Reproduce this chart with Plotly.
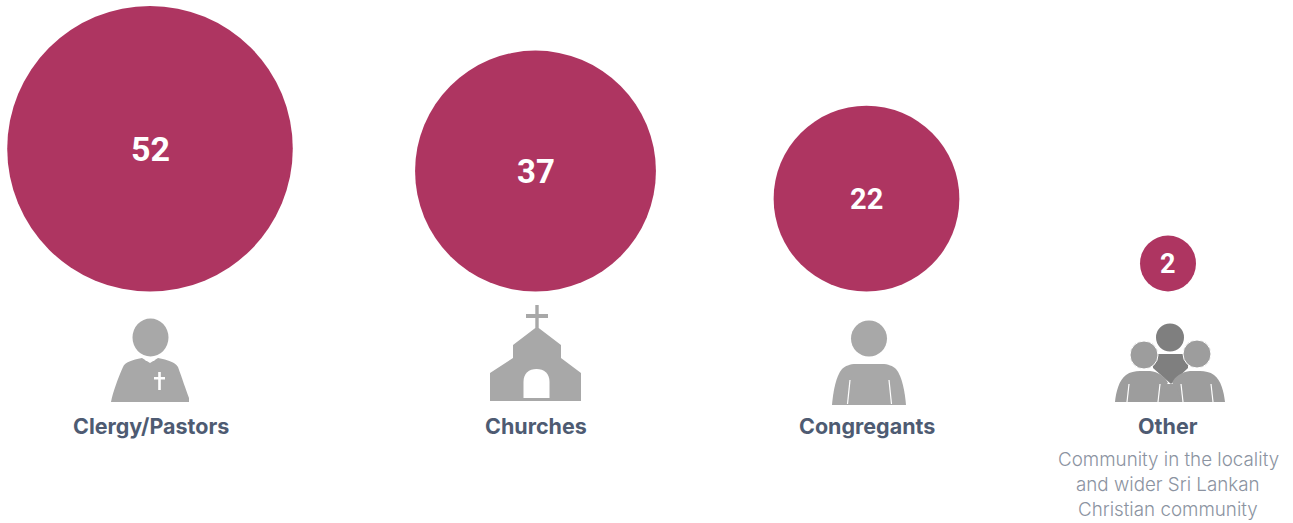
import math
import plotly.graph_objects as go

categories = ["Clergy/Pastors", "Churches", "Congregants", "Other"]
values = [52, 37, 22, 2]
note_lines = ["Community in the locality", "and wider Sri Lankan", "Christian community"]

# layout constants (axes are mapped 1:1 to the canvas)
W, H = 1293, 523
CENTERS = [150, 535.5, 866.5, 1168]
LABEL_X = [150.5, 535.5, 866.5, 1168]
BASE_Y = 291.5
K = 19.8  # radius px per sqrt(value)
NUM_SIZES = [34, 33, 29, 27]
BERRY = "#ae3561"
GREY = "#a8a8a8"
GREY2 = "#9d9d9d"
DARK = "#7f7f7f"
LABEL = "#4e5b72"
NOTE = "#8b93a1"
FONT = "Roboto, sans-serif"
LABEL_FONT = "Inter, sans-serif"

centre_y = [BASE_Y - K * math.sqrt(v) for v in values]

fig = go.Figure(go.Scatter(
    x=CENTERS,
    y=centre_y,
    mode="markers",
    marker=dict(size=values, sizemode="area", sizeref=1 / (2 * K * K),
                color=BERRY, line=dict(width=0), opacity=1),
    hoverinfo="skip", showlegend=False, cliponaxis=False,
))

for x, y, v, s in zip(CENTERS, centre_y, values, NUM_SIZES):
    fig.add_annotation(x=x, y=y, yshift=-0.5, text=str(v), showarrow=False,
                       xanchor="center", yanchor="middle",
                       font=dict(family=FONT, size=s, color="white", weight=700))


def path(d, color):
    fig.add_shape(type="path", path=d, fillcolor=color, line=dict(width=0),
                  xref="x", yref="y", layer="above")


def disc(cx, cy, rx, ry, color, edge=0):
    fig.add_shape(type="circle", x0=cx - rx, x1=cx + rx, y0=cy - ry, y1=cy + ry,
                  fillcolor=color, line=dict(width=edge, color="white"),
                  xref="x", yref="y", layer="above")


def stroke(d, color="white", w=1.2):
    fig.add_shape(type="path", path=d, line=dict(width=w, color=color),
                  xref="x", yref="y", layer="above")


# Clergy icon
disc(150.5, 337.5, 18, 19, GREY)
path("M111,402 C113,392 118,378 123,367 C125,362 132,360 142,358 L150,363 L158,358 "
     "C168,360 175,362 178,367 C182,378 186,390 189,398 L189,402 Z", GREY)
path("M144,358 L156,358 L154,361 L146,361 Z", "white")
path("M158.2,372 L160.8,372 L160.8,377 L165,377 L165,379.5 L160.8,379.5 L160.8,390 "
     "L158.2,390 L158.2,379.5 L154,379.5 L154,377 L158.2,377 Z", "white")

# Church icon
path("M535.3,305 L538.7,305 L538.7,314 L548,314 L548,318 L538.7,318 L538.7,328 L561,345 L561,358 "
     "L581,373 L581,401 L490,401 L490,373 L513,358 L513,345 L535.3,328 L535.3,318 L526,318 "
     "L526,314 L535.3,314 Z", GREY)
path("M523.5,398 L523.5,382 C523.5,373 529,369 536.5,369 C544,369 549.5,373 549.5,382 L549.5,398 Z", "white")

# Congregant icon
disc(869, 338.5, 18, 18, GREY)
path("M832,405 C833,392 836,376 842,369 C845,366 850,364 856,364 L882,364 C888,364 893,366 896,369 "
     "C902,376 905,392 906,405 Z", GREY)
stroke("M850,380 L847.5,404")
stroke("M889,380 L891.5,404")

# Other icon
disc(1170, 337.5, 14, 14, DARK)
path("M1153,354 L1188,354 L1188,368 L1171,384 L1153,368 Z", DARK)
path("M1158,402 L1158,384 L1171,384 L1183,384 L1183,402 Z", GREY2)
path("M1115,402 C1116,392 1119,380 1126,375 C1130,372 1135,371 1140,371 L1150,371 "
     "C1158,372 1165,376 1168,383 C1161,388 1161,395 1158,402 Z", GREY2)
path("M1225,402 C1224,392 1221,380 1214,375 C1210,372 1205,371 1200,371 L1190,371 "
     "C1182,372 1175,376 1172,383 C1179,388 1179,395 1182,402 Z", GREY2)
disc(1144, 355, 14, 14, GREY2, edge=1)
disc(1197, 354, 14, 14, GREY2, edge=1)
stroke("M1129,384 L1127,402")
stroke("M1211,384 L1213,402")
stroke("M1160,384 L1158,402")
stroke("M1181,384 L1183,402")

for x, c in zip(LABEL_X, categories):
    fig.add_annotation(x=x, y=426, text=c, showarrow=False, xanchor="center", yanchor="middle",
                       font=dict(family=LABEL_FONT, size=21.5, color=LABEL, weight=700))

for y, t in zip([459.5, 484, 509], note_lines):
    fig.add_annotation(x=1168, y=y, text=t, showarrow=False, xanchor="center", yanchor="middle",
                       font=dict(family=LABEL_FONT, size=18.8, color=NOTE, weight=300))

fig.update_layout(
    width=W, height=H, margin=dict(l=0, r=0, t=0, b=0),
    paper_bgcolor="white", plot_bgcolor="white",
    xaxis=dict(range=[0, W], visible=False, fixedrange=True),
    yaxis=dict(range=[H, 0], visible=False, fixedrange=True),
)
fig.write_html("out.html", config={"displayModeBar": False, "responsive": False},
               default_height=H, default_width=W,
               post_script="document.body.style.margin='0';document.documentElement.style.overflow='hidden';")
